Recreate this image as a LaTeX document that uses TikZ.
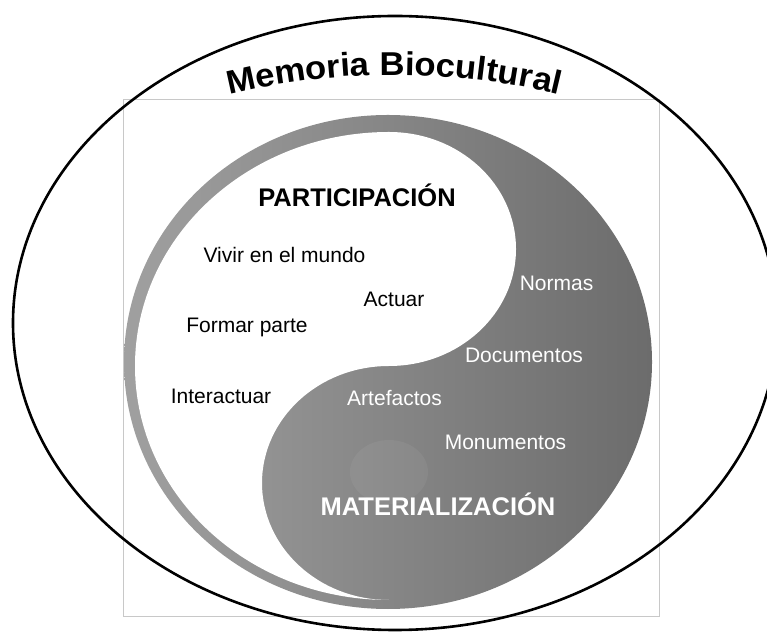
\documentclass[tikz,border=0pt]{standalone}
\usepackage{fontspec}
\setmainfont{Liberation Sans}
\newfontfamily\titlefont[FakeStretch=1.05]{Liberation Sans Bold}
\usetikzlibrary{decorations.text}
\definecolor{yyleft}{RGB}{160,160,160}
\definecolor{yyright}{RGB}{108,108,108}
\definecolor{boxgray}{RGB}{200,200,200}
\begin{document}
\begin{tikzpicture}[x=1pt,y=1pt,
  lbl/.style={font=\fontsize{21}{25}\selectfont, anchor=base, inner sep=0pt},
  darklbl/.style={lbl, text=black},
  lightlbl/.style={lbl, text=white},
  headlbl/.style={font=\fontsize{25.5}{30}\selectfont\bfseries, anchor=base, inner sep=0pt},
  ring/.style={draw=black, line width=2.6pt}]
\useasboundingbox (0,0) rectangle (767,631);
\fill[white] (0,0) rectangle (767,631);
% frame of the picture
\draw[boxgray, line width=1pt] (123,15) rectangle (659,531);
% yin-yang: dark part
\shade[left color=yyleft, right color=yyright] (388,269) ellipse [x radius=264, y radius=247];
% yin-yang: white part
\fill[white] (389,499) arc[start angle=90, end angle=270, x radius=254, y radius=234]
  arc[start angle=270, end angle=90, x radius=127, y radius=117]
  arc[start angle=-90, end angle=90, x radius=127, y radius=117] -- cycle;
% faint dot
\fill[white, opacity=0.05] (389,159) ellipse [x radius=39, y radius=32];
% labels
\node[headlbl, text=black] (part) at (357,424) {PARTICIPACIÓN};
\node[darklbl] (vivir) at (284.5,368) {Vivir en el mundo};
\node[darklbl] (actuar) at (394,324) {Actuar};
\node[darklbl] (formar) at (247,298) {Formar parte};
\node[darklbl] (inter) at (221,227) {Interactuar};
\node[lightlbl] (normas) at (556.5,340) {Normas};
\node[lightlbl] (docs) at (524,268) {Documentos};
\node[lightlbl] (arte) at (394.5,225) {Artefactos};
\node[lightlbl] (monu) at (505.5,181) {Monumentos};
\node[headlbl, text=white] (mate) at (438,115) {MATERIALIZACIÓN};
% outer ellipse
\draw[ring] (395,308) ellipse [x radius=382, y radius=307];
% curved title
\path[decorate, decoration={text along path,
  text={|\titlefont\fontsize{33}{33}\selectfont|Memoria Biocultural},
  text align=center}]
  (98.2,490.4) arc[start angle=115, end angle=65, radius=700];
\end{tikzpicture}
\end{document}
